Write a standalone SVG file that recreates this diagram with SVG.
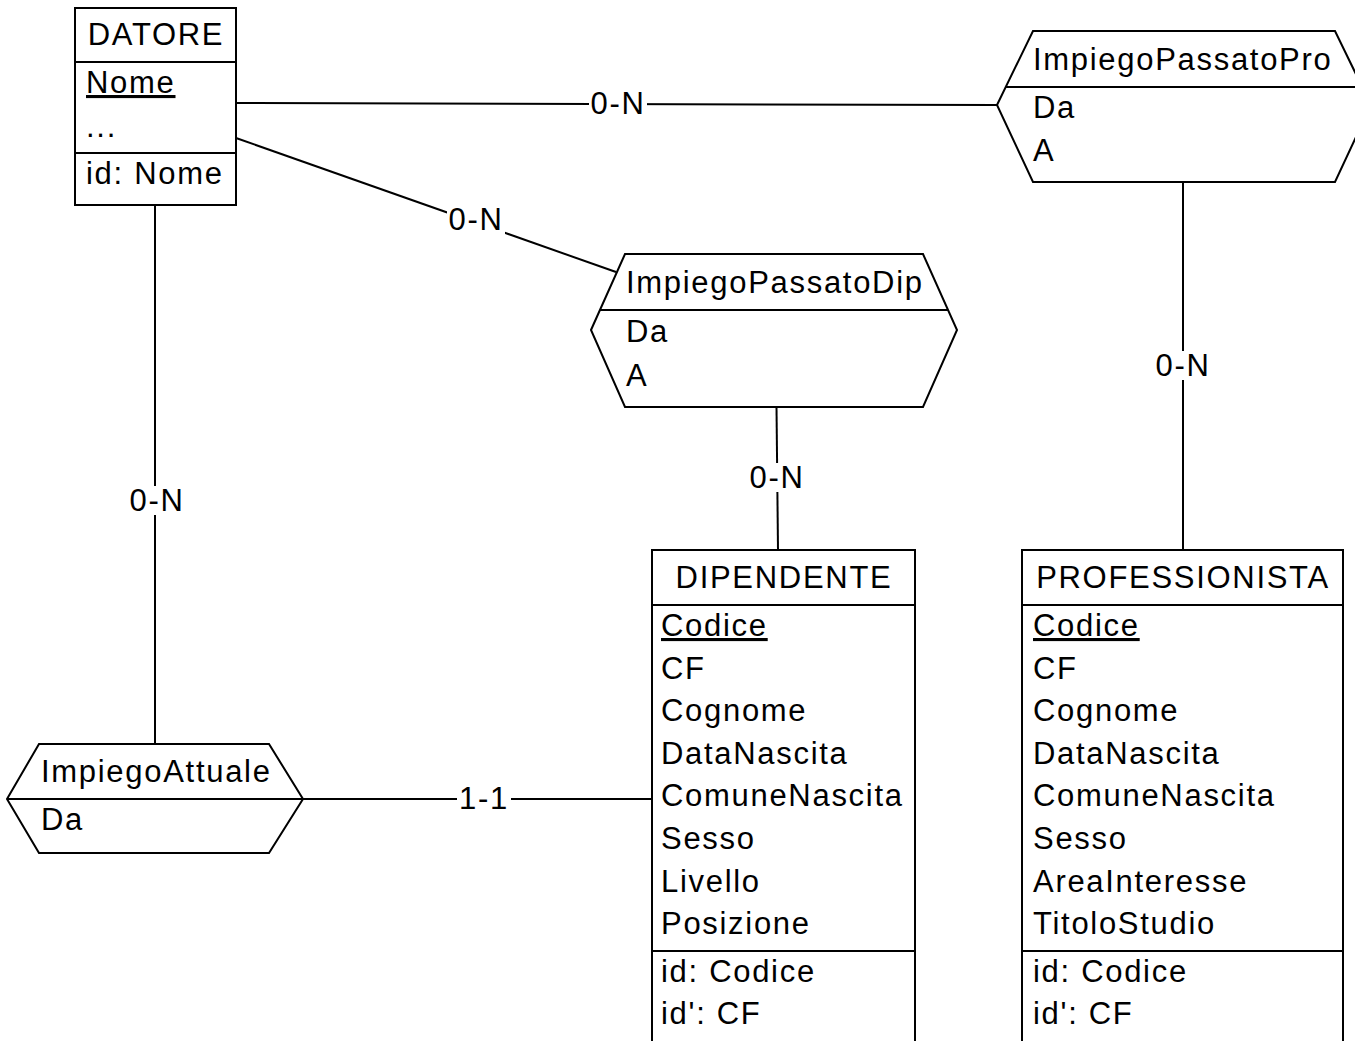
<svg xmlns="http://www.w3.org/2000/svg" width="1355" height="1041" viewBox="0 0 1355 1041">
<style>
  text { font-family: "Liberation Sans", Arial, sans-serif; font-size: 31px; letter-spacing: 1.7px; fill: #000; }
  .c { text-anchor: middle; }
  .u { text-decoration: underline; }
  .shape { fill: #fff; stroke: #000; stroke-width: 2; }
  .ln { stroke: #000; stroke-width: 2; fill: none; }
  .bg { fill: #fff; stroke: none; }
</style>
<rect x="0" y="0" width="1355" height="1041" fill="#fff"/>

<g id="connectors">
  <line class="ln" x1="236" y1="103" x2="997" y2="105"/>
  <rect class="bg" x="589" y="89" width="58" height="29"/>
  <text class="c" x="618" y="114">0-N</text>

  <line class="ln" x1="236" y1="138" x2="616" y2="272"/>
  <rect class="bg" x="447" y="205" width="58" height="29"/>
  <text class="c" x="476" y="230">0-N</text>

  <line class="ln" x1="155" y1="205" x2="155" y2="744"/>
  <rect class="bg" x="128" y="486" width="58" height="29"/>
  <text class="c" x="157" y="511">0-N</text>

  <line class="ln" x1="303" y1="799" x2="652" y2="799"/>
  <rect class="bg" x="457" y="784" width="54" height="29"/>
  <text class="c" x="484" y="809">1-1</text>

  <line class="ln" x1="776.5" y1="407" x2="778" y2="550"/>
  <rect class="bg" x="748" y="463" width="58" height="29"/>
  <text class="c" x="777" y="488">0-N</text>

  <line class="ln" x1="1183" y1="182" x2="1183" y2="550"/>
  <rect class="bg" x="1154" y="351" width="58" height="29"/>
  <text class="c" x="1183" y="376">0-N</text>
</g>

<g id="DATORE">
  <rect class="shape" x="75" y="8" width="161" height="197"/>
  <line class="ln" x1="75" y1="62" x2="236" y2="62"/>
  <line class="ln" x1="75" y1="153" x2="236" y2="153"/>
  <text class="c" x="156" y="45">DATORE</text>
  <text class="u" x="86" y="93">Nome</text>
  <text x="86" y="137">...</text>
  <text x="86" y="184">id: Nome</text>
</g>

<g id="ImpiegoPassatoPro">
  <polygon class="shape" points="997,105 1033,31 1335,31 1371,105 1335,182 1033,182"/>
  <line class="ln" x1="1006" y1="87" x2="1362" y2="87"/>
  <text x="1033" y="70">ImpiegoPassatoPro</text>
  <text x="1033" y="118">Da</text>
  <text x="1033" y="161">A</text>
</g>

<g id="ImpiegoPassatoDip">
  <polygon class="shape" points="591,330 625,254 923,254 957,330 923,407 625,407"/>
  <line class="ln" x1="600" y1="310" x2="948" y2="310"/>
  <text x="626" y="293">ImpiegoPassatoDip</text>
  <text x="626" y="342">Da</text>
  <text x="626" y="386">A</text>
</g>

<g id="ImpiegoAttuale">
  <polygon class="shape" points="7,799 39,744 269,744 303,799 269,853 39,853"/>
  <line class="ln" x1="7" y1="799" x2="303" y2="799"/>
  <text x="41" y="782">ImpiegoAttuale</text>
  <text x="41" y="830">Da</text>
</g>

<g id="DIPENDENTE">
  <rect class="shape" x="652" y="550" width="263" height="520"/>
  <line class="ln" x1="652" y1="605" x2="915" y2="605"/>
  <line class="ln" x1="652" y1="951" x2="915" y2="951"/>
  <text class="c" x="784" y="588">DIPENDENTE</text>
  <text class="u" x="661" y="636">Codice</text>
  <text x="661" y="679">CF</text>
  <text x="661" y="721">Cognome</text>
  <text x="661" y="764">DataNascita</text>
  <text x="661" y="806">ComuneNascita</text>
  <text x="661" y="849">Sesso</text>
  <text x="661" y="892">Livello</text>
  <text x="661" y="934">Posizione</text>
  <text x="661" y="982">id: Codice</text>
  <text x="661" y="1024">id': CF</text>
</g>

<g id="PROFESSIONISTA">
  <rect class="shape" x="1022" y="550" width="321" height="520"/>
  <line class="ln" x1="1022" y1="605" x2="1343" y2="605"/>
  <line class="ln" x1="1022" y1="951" x2="1343" y2="951"/>
  <text class="c" x="1183" y="588">PROFESSIONISTA</text>
  <text class="u" x="1033" y="636">Codice</text>
  <text x="1033" y="679">CF</text>
  <text x="1033" y="721">Cognome</text>
  <text x="1033" y="764">DataNascita</text>
  <text x="1033" y="806">ComuneNascita</text>
  <text x="1033" y="849">Sesso</text>
  <text x="1033" y="892">AreaInteresse</text>
  <text x="1033" y="934">TitoloStudio</text>
  <text x="1033" y="982">id: Codice</text>
  <text x="1033" y="1024">id': CF</text>
</g>
</svg>
